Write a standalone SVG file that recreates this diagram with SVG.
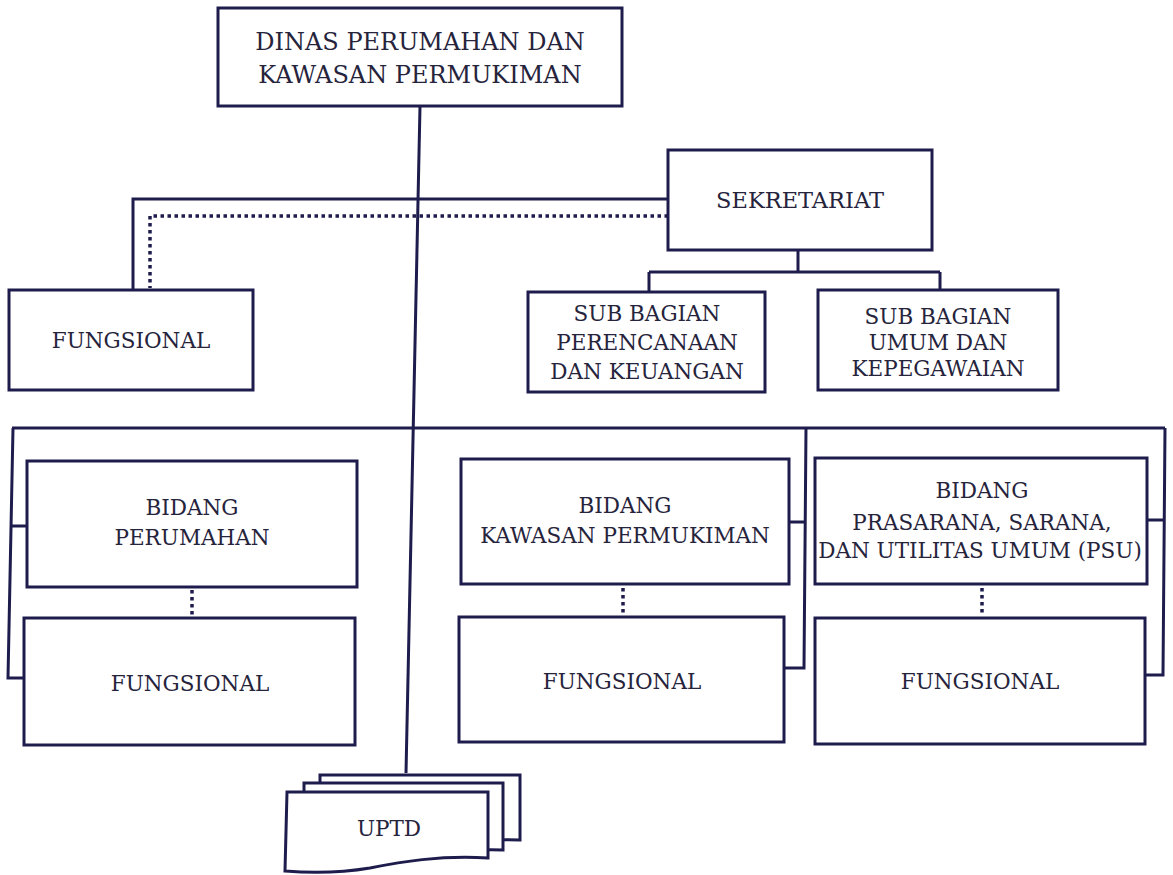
<svg xmlns="http://www.w3.org/2000/svg" width="1173" height="875" viewBox="0 0 1173 875">
<style>
.box{fill:#fff;stroke:#1e1c4c;stroke-width:3}
.ln{fill:none;stroke:#1e1c4c;stroke-width:3}
.dot{fill:none;stroke:#1e1c4c;stroke-width:3.5;stroke-dasharray:3.5 3.5}
text{font-family:"DejaVu Serif","Liberation Serif",serif;font-size:21.5px;fill:#26243c;text-anchor:middle}
.big{font-size:24px}
.mid{font-size:22.5px}
</style>
<rect width="1173" height="875" fill="#fff"/>
<g id="connectors">
<path class="ln" d="M420,106 L406,773"/>
<path class="ln" d="M668,199 L133,199 L133,290"/>
<path class="dot" d="M668,216 L150,216 L150,288"/>
<path class="ln" d="M798,250 L798,272 M649,272 L940,272 M649,272 L649,292 M940,272 L940,290"/>
<path class="ln" d="M12,428 L1165,428"/>
<path class="ln" d="M13,428 L8,678 L24,678 M11,526 L27,526"/>
<path class="ln" d="M806,428 L804,668 L784,668 M805,522 L789,522"/>
<path class="ln" d="M1165,428 L1163,675 L1145,675 M1164,520 L1147,520"/>
<path class="dot" d="M192,590 L192,617"/>
<path class="dot" d="M623,588 L623,615"/>
<path class="dot" d="M982,588 L982,615"/>
</g>
<g id="dinas">
<rect class="box" x="218" y="8" width="404" height="98"/>
<text class="big" x="420" y="50">DINAS PERUMAHAN DAN</text>
<text class="big" x="420" y="83">KAWASAN PERMUKIMAN</text>
</g>
<g id="sekretariat">
<rect class="box" x="668" y="150" width="264" height="100"/>
<text class="mid" x="800" y="208">SEKRETARIAT</text>
</g>
<g id="fungsional-sek">
<rect class="box" x="9" y="290" width="244" height="100"/>
<text x="131" y="348">FUNGSIONAL</text>
</g>
<g id="subbag-perencanaan">
<rect class="box" x="528" y="292" width="237" height="100"/>
<text x="647" y="321">SUB BAGIAN</text>
<text x="647" y="350">PERENCANAAN</text>
<text x="647" y="379">DAN KEUANGAN</text>
</g>
<g id="subbag-umum">
<rect class="box" x="818" y="290" width="240" height="100"/>
<text x="938" y="324">SUB BAGIAN</text>
<text x="938" y="350">UMUM DAN</text>
<text x="938" y="376">KEPEGAWAIAN</text>
</g>
<g id="bidang-perumahan">
<rect class="box" x="27" y="461" width="330" height="126"/>
<text x="192" y="515">BIDANG</text>
<text x="192" y="545">PERUMAHAN</text>
</g>
<g id="fungsional-perumahan">
<rect class="box" x="24" y="618" width="331" height="127"/>
<text x="190" y="691">FUNGSIONAL</text>
</g>
<g id="bidang-kawasan">
<rect class="box" x="461" y="459" width="328" height="125"/>
<text x="625" y="513">BIDANG</text>
<text x="625" y="543">KAWASAN PERMUKIMAN</text>
</g>
<g id="fungsional-kawasan">
<rect class="box" x="459" y="617" width="325" height="125"/>
<text x="622" y="689">FUNGSIONAL</text>
</g>
<g id="bidang-psu">
<rect class="box" x="815" y="458" width="332" height="126"/>
<text x="982" y="498">BIDANG</text>
<text x="982" y="530">PRASARANA, SARANA,</text>
<text x="980" y="558">DAN UTILITAS UMUM (PSU)</text>
</g>
<g id="fungsional-psu">
<rect class="box" x="815" y="618" width="330" height="126"/>
<text x="980" y="689">FUNGSIONAL</text>
</g>
<g id="uptd">
<path class="box" d="M320,775 L520,775 L520,840 C480,838 450,845 420,850 L320,850 Z"/>
<path class="box" d="M304,783 L503,783 L503,850 C465,848 430,856 400,861 L304,861 Z"/>
<path class="box" d="M287,792 L488,792 L488,858 C440,855 400,862 370,868 C340,873 310,873 285,871 Z"/>
<text x="389" y="836">UPTD</text>
</g>
</svg>
